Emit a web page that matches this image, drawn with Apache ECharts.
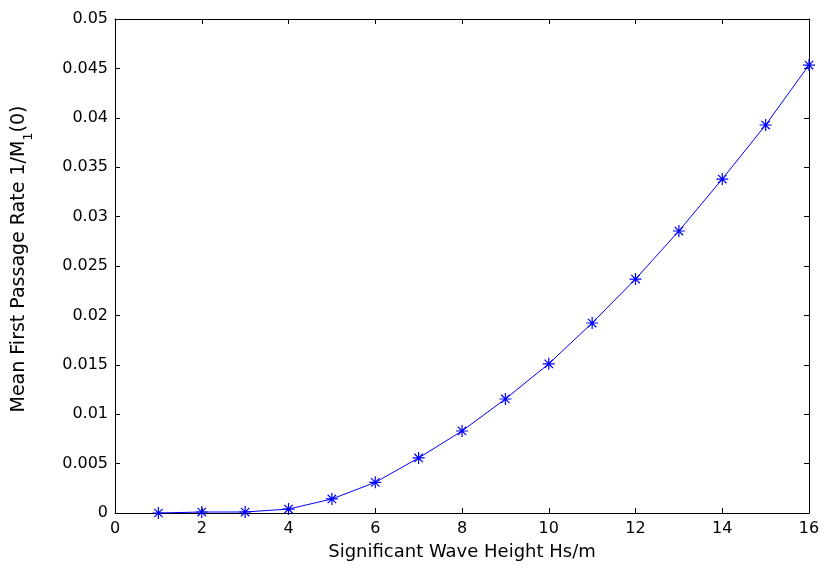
<!DOCTYPE html>
<html>
<head>
<meta charset="utf-8">
<script src="https://cdn.jsdelivr.net/npm/echarts@6/dist/echarts.min.js"></script>
<style>
  html, body { margin: 0; padding: 0; background: #fff; }
  #chart { width: 825px; height: 569px; }
</style>
</head>
<body>
<div id="chart"></div>
<script>
// Significant wave height (m)
const waveHeights = [1, 2, 3, 4, 5, 6, 7, 8, 9, 10, 11, 12, 13, 14, 15, 16];
// Mean first passage rate 1/M1(0)
const passageRate = [0.0000, 0.0001, 0.0001, 0.0004, 0.00142, 0.0031, 0.00557, 0.0083,
  0.01154, 0.0151, 0.01923, 0.02368, 0.02854, 0.0338, 0.03927, 0.04534];

const xTicks = [0, 2, 4, 6, 8, 10, 12, 14, 16];
const yTicks = [0, 0.005, 0.01, 0.015, 0.02, 0.025, 0.03, 0.035, 0.04, 0.045, 0.05];

const FONT = '"DejaVu Sans", "Liberation Sans", Arial, sans-serif';
const star = 'path://M0,-1L0,1M-1,0L1,0M-0.7,-0.7L0.7,0.7M-0.7,0.7L0.7,-0.7';

const fmtY = v => {
  const s = yTicks.find(t => Math.abs(t - v) < 1e-9);
  return s === undefined ? '' : String(+s.toFixed(3));
};
const fmtX = v => (xTicks.indexOf(v) >= 0 ? String(v) : '');

const chart = echarts.init(document.getElementById('chart'), null, { renderer: 'canvas' });

const baseAxis = {
  axisLine: { show: true, onZero: false, lineStyle: { color: '#000', width: 1 } },
  axisTick: { show: true, inside: true, length: 5, lineStyle: { color: '#000', width: 1 } },
  splitLine: { show: false }
};

chart.setOption({
  animation: false,
  backgroundColor: '#fff',
  grid: { left: 115, top: 19, right: 16, bottom: 56, containLabel: false },
  xAxis: [
    Object.assign({}, baseAxis, {
      type: 'value', min: 0, max: 16, interval: 2, position: 'bottom',
      axisLabel: { color: '#000', fontFamily: FONT, fontSize: 16, margin: 8, formatter: fmtX },
      name: 'Significant Wave Height Hs/m',
      nameLocation: 'middle', nameGap: 30,
      nameTextStyle: { color: '#000', fontFamily: FONT, fontSize: 18 }
    }),
    Object.assign({}, baseAxis, {
      type: 'value', min: 0, max: 16, interval: 2, position: 'top',
      axisLabel: { show: false }
    })
  ],
  yAxis: [
    Object.assign({}, baseAxis, {
      type: 'value', min: 0, max: 0.05, interval: 0.005, position: 'left',
      axisLabel: { color: '#000', fontFamily: FONT, fontSize: 16, margin: 7, formatter: fmtY },
      name: '{a|Mean First Passage Rate 1/M}{s|1}{a|(0)}',
      nameLocation: 'middle', nameGap: 86, nameRotate: 90,
      nameTextStyle: {
        color: '#000', fontFamily: FONT, fontSize: 19,
        padding: [0, 0, 0, 14],
        rich: {
          a: { fontFamily: FONT, fontSize: 19, color: '#000', verticalAlign: 'bottom' },
          s: { fontFamily: FONT, fontSize: 13, color: '#000', verticalAlign: 'bottom', padding: [0, 0, -6, 0] }
        }
      }
    }),
    Object.assign({}, baseAxis, {
      type: 'value', min: 0, max: 0.05, interval: 0.005, position: 'right',
      axisLabel: { show: false }
    })
  ],
  series: [{
    type: 'line',
    data: waveHeights.map((h, i) => [h, passageRate[i]]),
    lineStyle: { color: '#0000ff', width: 1 },
    symbol: star,
    symbolSize: 12,
    showAllSymbol: true,
    itemStyle: { color: 'none', borderColor: '#0000ff', borderWidth: 1.2 },
    emphasis: { disabled: true },
    z: 3
  }]
});
</script>
</body>
</html>
